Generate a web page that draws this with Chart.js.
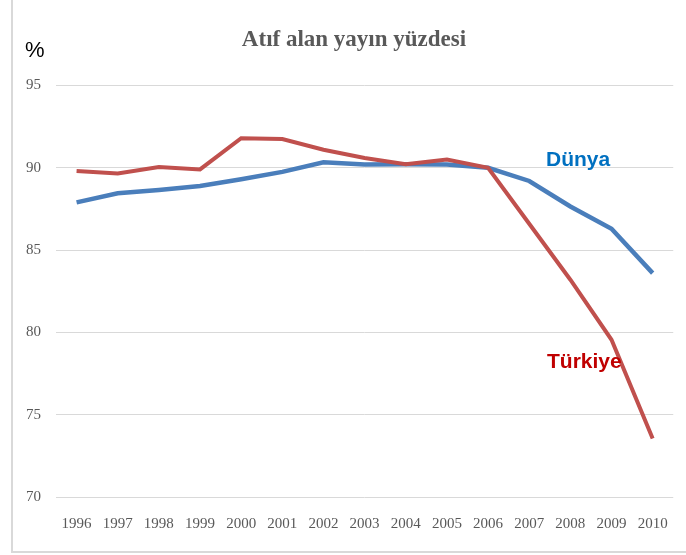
<!DOCTYPE html>
<html>
<head>
<meta charset="utf-8">
<script src="https://cdn.jsdelivr.net/npm/chart.js@4/dist/chart.umd.min.js"></script>
<style>
html,body{margin:0;padding:0;background:#fff;}
canvas{display:block;}
</style>
</head>
<body>
<canvas id="c" width="686" height="555"></canvas>
<script>
const years = ["1996","1997","1998","1999","2000","2001","2002","2003","2004","2005","2006","2007","2008","2009","2010"];
const dunya = [87.9, 88.45, 88.65, 88.9, 89.3, 89.75, 90.33, 90.2, 90.22, 90.2, 90.0, 89.2, 87.65, 86.3, 83.6];
const turkiye = [89.8, 89.65, 90.05, 89.9, 91.8, 91.75, 91.1, 90.6, 90.22, 90.5, 90.0, 86.6, 83.2, 79.55, 73.55];
const yTicks = [70, 75, 80, 85, 90, 95];
const titleText = "Atıf alan yayın yüzdesi";
const unitText = "%";
const seriesNames = ["Dünya", "Türkiye"];

const decor = {
  id: 'decor',
  beforeDraw(chart) {
    const ctx = chart.ctx;
    ctx.save();
    ctx.fillStyle = '#fff';
    ctx.fillRect(0, 0, chart.width, chart.height);
    ctx.strokeStyle = '#d9d9d9';
    ctx.lineWidth = 2;
    ctx.beginPath();
    ctx.moveTo(12, 0); ctx.lineTo(12, 552); ctx.lineTo(686, 552);
    ctx.stroke();
    ctx.restore();
  },
  afterDraw(chart) {
    const ctx = chart.ctx;
    ctx.save();
    ctx.textBaseline = 'middle';
    ctx.textAlign = 'center';
    ctx.fillStyle = '#595959';
    ctx.font = 'bold 23px "Liberation Serif", "Times New Roman", serif';
    ctx.fillText(titleText, 354, 40);
    ctx.fillStyle = '#000';
    ctx.font = '22px "Liberation Sans Narrow", "Liberation Sans", sans-serif';
    ctx.textAlign = 'left';
    ctx.fillText(unitText, 25, 51);
    ctx.font = 'bold 21px "Liberation Sans Narrow", "Liberation Sans", sans-serif';
    ctx.fillStyle = '#0070C0';
    ctx.fillText(seriesNames[0], 546, 160);
    ctx.fillStyle = '#C00000';
    ctx.fillText(seriesNames[1], 547, 362);
    ctx.restore();
  }
};

new Chart(document.getElementById('c'), {
  type: 'line',
  data: {
    labels: years,
    datasets: [
      { label: seriesNames[1], data: turkiye, borderColor: '#C0504D', borderWidth: 4, pointRadius: 0, tension: 0, fill: false },
      { label: seriesNames[0], data: dunya, borderColor: '#4A7EBB', borderWidth: 4.5, pointRadius: 0, tension: 0, fill: false }
    ]
  },
  options: {
    responsive: false,
    animation: false,
    devicePixelRatio: 1,
    layout: { padding: { left: 0, top: 85.5, right: 10, bottom: 0 } },
    plugins: { legend: { display: false }, title: { display: false }, tooltip: { enabled: false } },
    scales: {
      x: {
        offset: true,
        grid: { display: false, drawTicks: false },
        border: { display: false },
        ticks: { color: '#595959', font: { family: '"Liberation Serif", "Times New Roman", serif', size: 15 }, padding: 18, maxRotation: 0, autoSkip: false },
        afterFit(s) { s.height = 58; }
      },
      y: {
        min: 70, max: 95,
        afterBuildTicks(s) { s.ticks = yTicks.map(v => ({ value: v })); },
        grid: { color: '#d9d9d9', lineWidth: 1, drawTicks: false },
        border: { display: false },
        ticks: { color: '#595959', font: { family: '"Liberation Serif", "Times New Roman", serif', size: 15 }, padding: 15 },
        afterFit(s) { s.width = 56; }
      }
    }
  },
  plugins: [decor]
});
</script>
</body>
</html>
